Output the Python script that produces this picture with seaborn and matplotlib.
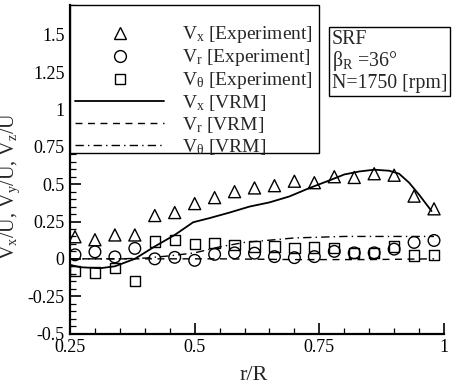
import numpy as np
import pandas as pd
import matplotlib
matplotlib.use("Agg")
import matplotlib.pyplot as plt
import seaborn as sns
from matplotlib.lines import Line2D
from matplotlib.patches import Rectangle
from matplotlib.ticker import MultipleLocator

# ---- data ----
r_exp = [0.26, 0.30, 0.34, 0.38, 0.42, 0.46, 0.50, 0.54, 0.58, 0.62,
         0.66, 0.70, 0.74, 0.78, 0.82, 0.86, 0.90, 0.94, 0.98]
vx_exp = [0.148, 0.128, 0.16, 0.16, 0.29, 0.31, 0.37, 0.41, 0.45, 0.475,
          0.49, 0.52, 0.51, 0.55, 0.545, 0.57, 0.56, 0.42, 0.335]
vr_exp = [0.027, 0.047, 0.013, 0.07, 0.0, 0.01, -0.01, 0.03, 0.04, 0.038,
          0.015, 0.008, 0.015, 0.05, 0.04, 0.04, 0.065, 0.11, 0.123]
vt_exp = [-0.08, -0.092, -0.063, -0.15, 0.116, 0.127, 0.098, 0.105, 0.095, 0.083,
          0.083, 0.072, 0.076, 0.072, 0.04, 0.04, 0.083, 0.022, 0.027]

r_vx = [0.25, 0.27, 0.31, 0.34, 0.38, 0.42, 0.46, 0.497, 0.53, 0.57, 0.61,
        0.65, 0.69, 0.73, 0.77, 0.80, 0.83, 0.86, 0.89, 0.91, 0.93, 0.95, 0.975]
vx_vrm = [-0.04, -0.056, -0.063, -0.05, 0.0, 0.083, 0.16, 0.245, 0.273, 0.31, 0.35,
          0.378, 0.418, 0.474, 0.525, 0.565, 0.585, 0.597, 0.59, 0.57, 0.51, 0.43, 0.32]
r_vr = [0.25, 0.40, 0.55, 0.70, 0.85, 0.98]
vr_vrm = [0.0, 0.0, 0.0, -0.005, -0.005, 0.0]
r_vt = [0.25, 0.35, 0.40, 0.45, 0.50, 0.55, 0.60, 0.65, 0.70, 0.80, 0.90, 0.98]
vt_vrm = [0.0, 0.0, 0.005, 0.02, 0.04, 0.08, 0.11, 0.125, 0.14, 0.15, 0.15, 0.15]

legend_labels = [r"V$_x$ [Experiment]", r"V$_r$ [Experiment]", r"V$_\theta$ [Experiment]",
                 r"V$_x$ [VRM]", r"V$_r$ [VRM]", r"V$_\theta$ [VRM]"]
x_ticks = [0.25, 0.5, 0.75, 1.0]
x_ticklabels = ["0.25", "0.5", "0.75", "1"]
y_ticks = [-0.5, -0.25, 0, 0.25, 0.5, 0.75, 1.0, 1.25, 1.5]
y_ticklabels = ["-0.5", "-0.25", "0", "0.25", "0.5", "0.75", "1", "1.25", "1.5"]

sns.set_theme(style="ticks")
plt.rcParams["font.family"] = ["Liberation Serif", "DejaVu Serif"]
plt.rcParams["mathtext.fontset"] = "custom"
plt.rcParams["mathtext.rm"] = "Liberation Serif"
plt.rcParams["mathtext.it"] = "Liberation Serif:italic"
plt.rcParams["mathtext.default"] = "rm"

fig = plt.figure(figsize=(4.62, 3.84), dpi=100)
ax = fig.add_axes([70/462, 1-333.5/384, (444-70)/462, (333.5-5)/384])

df_exp = pd.DataFrame({"r": r_exp, "vx": vx_exp, "vr": vr_exp, "vt": vt_exp})

# VRM lines
sns.lineplot(x=r_vx, y=vx_vrm, ax=ax, color="black", lw=1.3, linestyle="-")
sns.lineplot(x=r_vr, y=vr_vrm, ax=ax, color="black", lw=1.0, linestyle=(0, (5, 4)))
sns.lineplot(x=r_vt, y=vt_vrm, ax=ax, color="black", lw=1.0, linestyle=(0, (6, 3, 1, 3)))

# experiment markers
sns.scatterplot(data=df_exp, x="r", y="vx", ax=ax, marker="^", s=75,
                facecolor="none", edgecolor="black", linewidth=1.0, zorder=3)
sns.scatterplot(data=df_exp, x="r", y="vr", ax=ax, marker="o", s=70,
                facecolor="none", edgecolor="black", linewidth=1.0, zorder=3)
sns.scatterplot(data=df_exp, x="r", y="vt", ax=ax, marker="s", s=55,
                facecolor="none", edgecolor="black", linewidth=1.0, zorder=3)

ax.set_xlim(0.25, 1.0)
ax.set_ylim(-0.5, 1.7)
ax.set_xticks(x_ticks)
ax.set_xticklabels(x_ticklabels)
ax.set_yticks(y_ticks)
ax.set_yticklabels(y_ticklabels)
ax.xaxis.set_minor_locator(MultipleLocator(0.05))
ax.yaxis.set_minor_locator(MultipleLocator(0.05))
ax.tick_params(which="major", direction="in", length=8, width=1.2, labelsize=13,
               colors="black", pad=4)
ax.tick_params(which="minor", direction="in", length=4, width=0.9, colors="black")
for s in ["top", "right"]:
    ax.spines[s].set_visible(False)
for s in ["left", "bottom"]:
    ax.spines[s].set_linewidth(1.6)
    ax.spines[s].set_color("black")

ax.set_xlabel("r/R", fontsize=16)
ax.set_ylabel(r"V$_x$/U, V$_y$/U, V$_z$/U", fontsize=14.5)
ax.xaxis.set_label_coords(0.49, -0.10)
ax.yaxis.set_label_coords(-0.128, 0.45)

# legend frame (white box over the upper-left part of the axes)
ax.add_patch(Rectangle((0.0, 0.549), 0.666, 0.451, transform=ax.transAxes,
                       facecolor="white", edgecolor="black", lw=1.0,
                       zorder=4, clip_on=False))

handles = [
    Line2D([], [], marker="^", linestyle="", mfc="none", mec="black", ms=8.5),
    Line2D([], [], marker="o", linestyle="", mfc="none", mec="black", ms=8.5),
    Line2D([], [], marker="s", linestyle="", mfc="none", mec="black", ms=7),
    Line2D([], [], color="black", lw=1.3, linestyle="-"),
    Line2D([], [], color="black", lw=1.0, linestyle=(0, (5, 4))),
    Line2D([], [], color="black", lw=1.0, linestyle=(0, (6, 3, 1, 3))),
]
leg = ax.legend(handles, legend_labels, loc="lower left",
                bbox_to_anchor=(0.0, 0.522), borderaxespad=0,
                fontsize=14, handlelength=4.6, handletextpad=0.9,
                labelspacing=0.1, borderpad=0.25, frameon=False)
leg.set_zorder(5)

ax.text(0.700, 0.925, "SRF\n" + r"β$_R$ =36°" + "\nN=1750 [rpm]",
        transform=ax.transAxes, fontsize=14.3, va="top", ha="left",
        linespacing=1.05,
        bbox=dict(boxstyle="square,pad=0.15", fc="white", ec="black", lw=1.0))

fig.savefig("out.png", dpi=100)
